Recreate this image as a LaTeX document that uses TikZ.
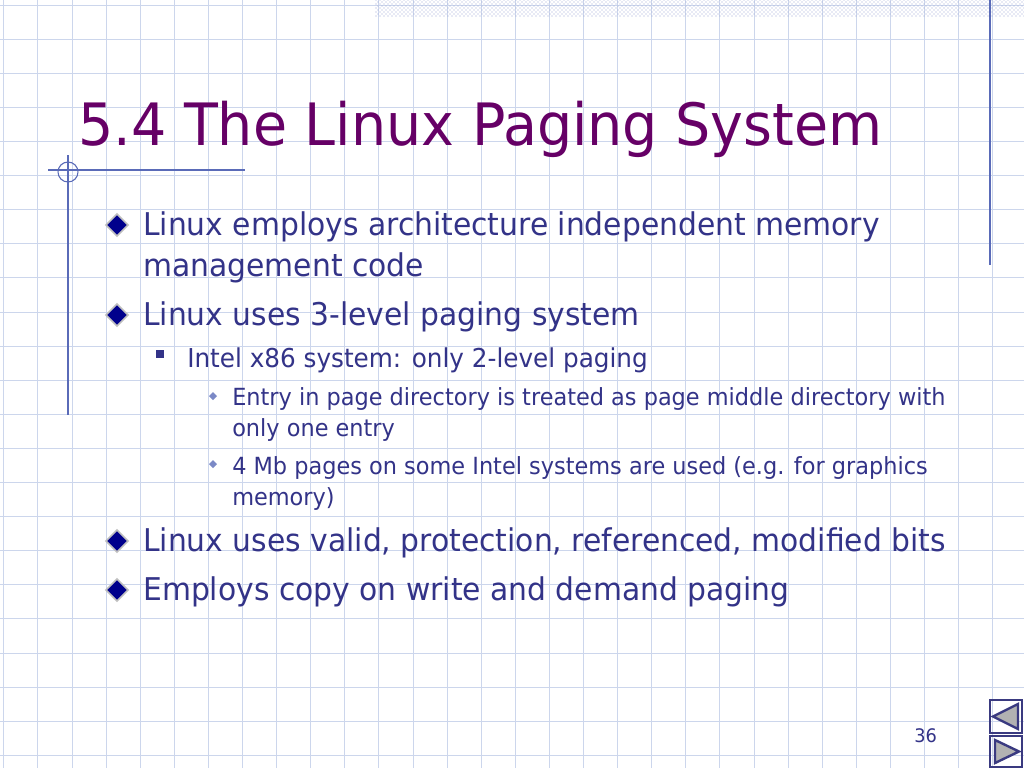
\documentclass[tikz,border=0pt]{standalone}
\usepackage{fontspec}
\setmainfont{DejaVu Sans}[FakeStretch=0.95]
\usetikzlibrary{patterns}
\definecolor{grid}{HTML}{CCD6EC}
\definecolor{ttl}{HTML}{660066}
\definecolor{txt}{HTML}{333388}
\definecolor{acc}{HTML}{5A6BB8}
\definecolor{nav}{HTML}{3A3A80}
\begin{document}
\begin{tikzpicture}[x=0.75pt,y=-0.75pt,
  lvl1/.style={anchor=base west,inner sep=0,text=txt,font=\fontsize{23.5}{28}\selectfont},
  lvl2/.style={anchor=base west,inner sep=0,text=txt,font=\fontsize{19.5}{22}\selectfont},
  lvl3/.style={anchor=base west,inner sep=0,text=txt,font=\fontsize{17.7}{20}\selectfont},
  dia/.style={fill=blue!55!black,draw=gray!50,line width=1.2pt}]
\useasboundingbox (0,0) rectangle (1024,768);
\fill[white] (0,0) rectangle (1024,768);
\foreach \i in {0,...,30} \draw[grid,line width=0.6pt] (3.7+34.1*\i,0) -- (3.7+34.1*\i,768);
\foreach \i in {0,...,22} \draw[grid,line width=0.6pt] (0,5+34.1*\i) -- (1024,5+34.1*\i);
\fill[pattern=crosshatch dots,pattern color=acc!60] (375,0) rectangle (1024,16);
\draw[acc,line width=0.8pt] (990,0) -- (990,265);
\draw[acc,line width=0.8pt] (68,155) -- (68,415);
\draw[acc,line width=0.8pt] (48,170) -- (245,170);
\draw[acc,line width=0.8pt] (68,172) circle (10);
\node[anchor=base west,inner sep=0,text=ttl,font=\fontsize{43.8}{50}\selectfont] (title) at (78,145) {5.4 The Linux Paging System};
\foreach \y in {225,315,541,590}
  \draw[dia] (106,\y) -- (117,\y-11) -- (128,\y) -- (117,\y+11) -- cycle;
\node[lvl1] (t1) at (143,235) {Linux employs architecture independent memory};
\node[lvl1] (t1b) at (143,276) {management code};
\node[lvl1] (t2) at (143,325) {Linux uses 3-level paging system};
\fill[txt] (156,350) rectangle (164,358);
\node[lvl2] (t3) at (187,367) {Intel x86 system: only 2-level paging};
\foreach \y in {396,464} \fill[acc!80] (213,\y-4) -- (217,\y) -- (213,\y+4) -- (209,\y) -- cycle;
\node[lvl3] (t4) at (232,405) {Entry in page directory is treated as page middle directory with};
\node[lvl3] (t4b) at (232,436) {only one entry};
\node[lvl3] (t5) at (232,474) {4 Mb pages on some Intel systems are used (e.g. for graphics};
\node[lvl3] (t5b) at (232,505) {memory)};
\node[lvl1] (t6) at (143,551) {Linux uses valid, protection, referenced, modified bits};
\node[lvl1] (t7) at (143,600) {Employs copy on write and demand paging};
\node[anchor=base west,inner sep=0,text=txt,font=\fontsize{14}{15}\selectfont] (pg) at (914,742) {36};
\draw[nav,line width=2.2pt] (990,700) rectangle (1022,733);
\draw[nav,line width=2.2pt] (990,736) rectangle (1022,767);
\draw[nav,fill=gray!60,line width=1.8pt] (1018,704) -- (993,716.5) -- (1018,729) -- cycle;
\draw[nav,fill=gray!60,line width=1.8pt] (995,740) -- (1019,751.5) -- (995,763) -- cycle;
\end{tikzpicture}
\end{document}
